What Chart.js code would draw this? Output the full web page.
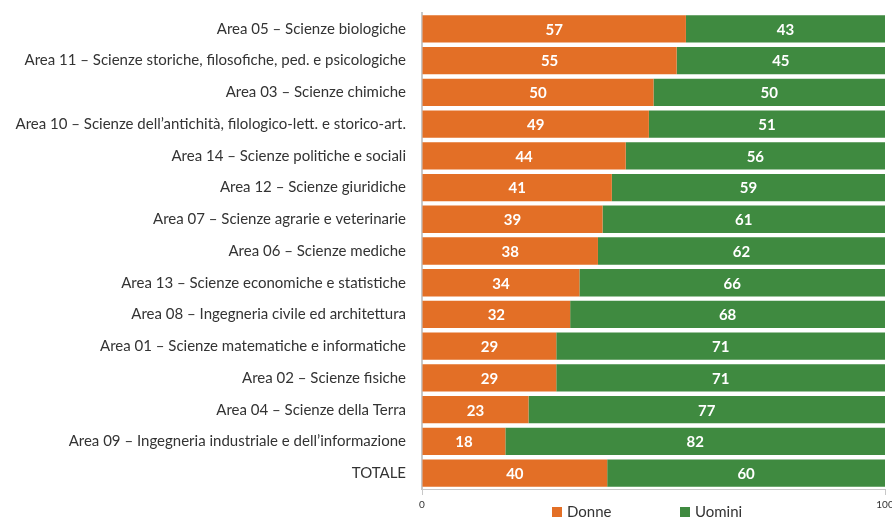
<!DOCTYPE html>
<html>
<head>
<meta charset="utf-8">
<script src="https://cdn.jsdelivr.net/npm/chart.js@4.4.1/dist/chart.umd.min.js"></script>
<style>
  html, body { margin: 0; padding: 0; background: #fff; }
  #wrap { position: relative; width: 892px; height: 517px; }
  #legend { position: absolute; top: 502px; left: 552px; font-family: Lato, sans-serif; font-size: 15px; color: #333; white-space: nowrap; }
  #legend span.box { display: inline-block; width: 10px; height: 10px; vertical-align: middle; margin-right: 5px; position: relative; top: -1px; }
  #legend span.item { display: inline-block; }
</style>
</head>
<body>
<div id="wrap">
  <canvas id="c" width="892" height="517"></canvas>
  <div id="legend"></div>
</div>
<script>
const categories = [
  "Area 05 – Scienze biologiche",
  "Area 11 – Scienze storiche, filosofiche, ped. e psicologiche",
  "Area 03 – Scienze chimiche",
  "Area 10 – Scienze dell’antichità, filologico-lett. e storico-art.",
  "Area 14 – Scienze politiche e sociali",
  "Area 12 – Scienze giuridiche",
  "Area 07 – Scienze agrarie e veterinarie",
  "Area 06 – Scienze mediche",
  "Area 13 – Scienze economiche e statistiche",
  "Area 08 – Ingegneria civile ed architettura",
  "Area 01 – Scienze matematiche e informatiche",
  "Area 02 – Scienze fisiche",
  "Area 04 – Scienze della Terra",
  "Area 09 – Ingegneria industriale e dell’informazione",
  "TOTALE"
];
const donne = [57, 55, 50, 49, 44, 41, 39, 38, 34, 32, 29, 29, 23, 18, 40];
const uomini = [43, 45, 50, 51, 56, 59, 61, 62, 66, 68, 71, 71, 77, 82, 60];
const seriesNames = ["Donne", "Uomini"];
const xTicks = [0, 100];

const COL_D = "#E36F26";
const COL_U = "#3F8A40";

const valueLabels = {
  id: "valueLabels",
  afterDatasetsDraw(chart) {
    const ctx = chart.ctx;
    ctx.save();
    ctx.font = "bold 15px Lato, sans-serif";
    ctx.fillStyle = "#fff";
    ctx.textAlign = "center";
    ctx.textBaseline = "middle";
    chart.data.datasets.forEach((ds, i) => {
      const meta = chart.getDatasetMeta(i);
      meta.data.forEach((el, j) => {
        const cx = (el.x + el.base) / 2;
        ctx.fillText(String(ds.data[j]), cx, el.y + 1);
      });
    });
    ctx.restore();
  }
};

const chart = new Chart(document.getElementById("c"), {
  type: "bar",
  data: {
    labels: categories,
    datasets: [
      { label: seriesNames[0], data: donne, backgroundColor: COL_D, barPercentage: 0.86, categoryPercentage: 1 },
      { label: seriesNames[1], data: uomini, backgroundColor: COL_U, barPercentage: 0.86, categoryPercentage: 1 }
    ]
  },
  options: {
    indexAxis: "y",
    responsive: false,
    animation: false,
    layout: { padding: { top: 13, right: 7, left: 0, bottom: 0 } },
    plugins: { legend: { display: false }, tooltip: { enabled: false } },
    scales: {
      x: {
        stacked: true,
        min: 0, max: 100,
        afterBuildTicks(scale) { scale.ticks = xTicks.map(v => ({ value: v })); },
        afterFit(scale) { scale.paddingRight = 0; scale.paddingLeft = 0; scale.height = 28; },
        grid: { display: true, drawOnChartArea: false, drawTicks: true, tickLength: 6, color: "#c8c8c8" },
        border: { display: true, color: "#c8c8c8", width: 1 },
        ticks: { font: { family: "Lato, sans-serif", size: 10 }, color: "#333", padding: 4, maxRotation: 0 }
      },
      y: {
        stacked: true,
        afterFit(scale) { scale.width = 422; scale.paddingTop = 0; scale.paddingBottom = 0; },
        grid: { display: false },
        border: { display: true, color: "#c8c8c8", width: 2 },
        ticks: { font: { family: "Lato, sans-serif", size: 15 }, color: "#333", padding: 8, autoSkip: false }
      }
    }
  },
  plugins: [valueLabels]
});

const leg = document.getElementById("legend");
[[seriesNames[0], COL_D, 0], [seriesNames[1], COL_U, 128]].forEach(([name, col, off]) => {
  const it = document.createElement("span");
  it.className = "item";
  it.style.position = "absolute";
  it.style.left = off + "px";
  it.innerHTML = '<span class="box" style="background:' + col + '"></span>' + name;
  leg.appendChild(it);
});
</script>
</body>
</html>
